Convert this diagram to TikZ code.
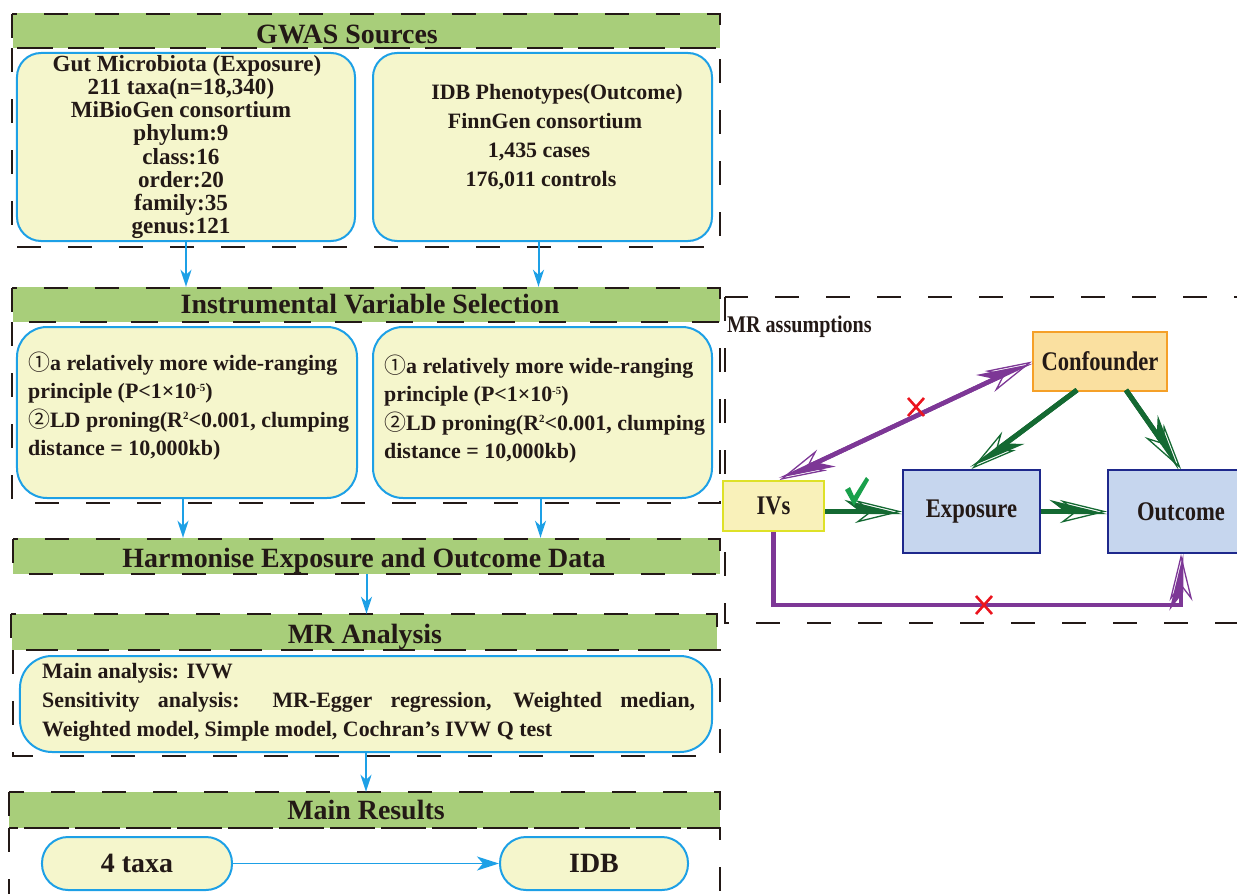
\documentclass[tikz,border=0pt]{standalone}
\usepackage{fontspec}
\setmainfont{Liberation Serif}
\newfontfamily\condfont{Liberation Serif}[FakeStretch=0.84]
\newfontfamily\cjk{Noto Sans CJK SC}
\usetikzlibrary{arrows.meta}
\definecolor{hdrgreen}{RGB}{168,206,122}
\definecolor{boxfill}{RGB}{245,246,204}
\definecolor{boxblue}{RGB}{29,160,230}
\definecolor{dashc}{RGB}{35,25,22}
\definecolor{txt}{RGB}{35,25,22}
\definecolor{conff}{RGB}{250,224,160}
\definecolor{confb}{RGB}{245,160,40}
\definecolor{ivf}{RGB}{249,241,186}
\definecolor{ivb}{RGB}{222,225,40}
\definecolor{expf}{RGB}{198,214,238}
\definecolor{expb}{RGB}{30,40,140}
\definecolor{dgreen}{RGB}{20,105,50}
\definecolor{purp}{RGB}{125,55,150}
\definecolor{redx}{RGB}{235,20,30}
\definecolor{chk}{RGB}{25,160,75}
\newcommand{\supx}[1]{\raisebox{7.5bp}{\fontsize{11}{11}\selectfont #1}}
\begin{document}
\begin{tikzpicture}[x=1bp,y=-1bp,
  hdr/.style={fill=hdrgreen, draw=none, inner sep=0, minimum height=35bp},
  hdrtext/.style={text=txt, inner sep=0, text height=18bp, text depth=0bp, font=\fontsize{28}{30}\selectfont\bfseries},
  frame/.style={draw=dashc, line width=2.6bp, dash pattern=on 24bp off 27bp},
  cbox/.style={draw=boxblue, fill=boxfill, line width=2bp, inner sep=0, rounded corners=24bp},
  body/.style={text=txt, inner sep=0, font=\fontsize{23.2}{23.3}\selectfont\bfseries},
  flow/.style={draw=boxblue, line width=2bp, -{Stealth[length=17bp,width=11bp,inset=5bp]}},
  flowh/.style={draw=boxblue, line width=1.6bp, -{Stealth[length=22bp,width=14bp,inset=6bp]}},
  pbox/.style={line width=2bp, inner sep=0, text=txt, font=\condfont\fontsize{27}{28}\selectfont\bfseries},
  gline/.style={draw=dgreen, line width=5bp},
  pline/.style={draw=purp, line width=4.5bp},
  xmark/.style={draw=redx, line width=2.6bp},
  openhead/.tip={Stealth[open, length=47bp, width=23bp, inset=15bp, line width=1.3bp]},
  halfhead/.tip={Stealth[harpoon, length=47bp, width=23bp, inset=15bp]}
]
\useasboundingbox (0,0) rectangle (1237,894);

% headers
\node[hdr, minimum width=707bp] (h1) at (366.5,30.5) {};
\node[hdr, minimum width=707bp] (h2) at (366.5,304.5) {};
\node[hdr, minimum width=707bp, minimum height=36bp] (h3) at (366.5,556) {};
\node[hdr, minimum width=705bp, minimum height=36bp] (h4) at (364.5,632) {};
\node[hdr, minimum width=711bp, minimum height=36bp] (h5) at (364.5,810) {};

% frames
\draw[frame] (12,14) rectangle (720,48);
\draw[frame] (12,48) rectangle (720,247);
\draw[frame] (12,288) rectangle (720,322);
\draw[frame] (12,322) rectangle (720,503);
\draw[frame] (13,539) rectangle (720,574);
\draw[frame] (11,614) rectangle (717,650);
\draw[frame] (13,650) rectangle (720,756);
\draw[frame] (9,792) rectangle (720,828);
\draw[frame] (9,828) rectangle (720,912);
\draw[frame] (725,297) rectangle (1252,623);

% header texts
\node[hdrtext] (t1) at (347,34) {GWAS Sources};
\node[hdrtext] (t2) at (370,304) {Instrumental Variable Selection};
\node[hdrtext] (t3) at (364,558) {Harmonise Exposure and Outcome Data};
\node[hdrtext] (t4) at (365,634) {MR Analysis};
\node[hdrtext] (t5) at (366,810) {Main Results};

% content boxes
\node[cbox, minimum width=338bp, minimum height=188bp] (gl) at (186,147) {};
\node[cbox, minimum width=339bp, minimum height=188bp] (gr) at (542.5,147) {};
\node[cbox, rounded corners=30bp, minimum width=340bp, minimum height=171bp] (il) at (187,412.5) {};
\node[cbox, rounded corners=30bp, minimum width=339bp, minimum height=171bp] (ir) at (542.5,412.5) {};
\node[cbox, rounded corners=32bp, minimum width=692bp, minimum height=96bp] (mb) at (366,704) {};
\node[cbox, rounded corners=26bp, minimum width=190bp, minimum height=53bp, text=txt, font=\fontsize{28}{30}\selectfont\bfseries] (taxa) at (137,863.5) {4 taxa};
\node[cbox, rounded corners=26bp, minimum width=188bp, minimum height=53bp, text=txt, font=\fontsize{28}{30}\selectfont\bfseries] (idb) at (594,863.5) {IDB};

% texts
\node[body, align=center] (glt) at (181,147) {\hspace*{12bp}Gut Microbiota (Exposure)\\211 taxa(n=18,340)\\MiBioGen consortium\\phylum:9\\class:16\\order:20\\family:35\\genus:121};
\node[body, align=center, font=\fontsize{22}{29}\selectfont\bfseries] (grt) at (545,137) {\hspace*{24bp}IDB Phenotypes(Outcome)\\FinnGen consortium\\\hspace*{-12bp}1,435 cases\\\hspace*{-8bp}176,011 controls};
\node[body, align=left, anchor=west, font=\fontsize{22}{28.7}\selectfont\bfseries] (ilt) at (28,406) {{\cjk\mdseries ①}a relatively more wide-ranging\\principle (P<1×10\supx{-5})\\{\cjk\mdseries ②}LD proning(R\supx{2}<0.001, clumping\\distance = 10,000kb)};
\node[body, align=left, anchor=west, font=\fontsize{22}{28.7}\selectfont\bfseries] (irt) at (384,409) {{\cjk\mdseries ①}a relatively more wide-ranging\\principle (P<1×10\supx{-5})\\{\cjk\mdseries ②}LD proning(R\supx{2}<0.001, clumping\\distance = 10,000kb)};
\node[body, align=left, anchor=west, font=\fontsize{22}{29}\selectfont\bfseries] (mbt) at (42,702) {Main analysis: IVW\\\makebox[653bp][s]{Sensitivity analysis: MR-Egger regression, Weighted median,}\\Weighted model, Simple model, Cochran’s IVW Q test};

% flow arrows
\draw[flow] (gl.south) -- (gl.south |- h2.north);
\draw[flow] ([xshift=-4bp]gr.south) -- ([xshift=-4bp]gr.south |- h2.north);
\draw[flow] ([xshift=-4bp]il.south) -- ([xshift=-4bp]il.south |- h3.north);
\draw[flow] ([xshift=-2bp]ir.south) -- ([xshift=-2bp]ir.south |- h3.north);
\draw[flow] (h3.south) -- (h3.south |- h4.north);
\draw[flow] (mb.south) -- (mb.south |- h5.north);
\draw[flowh] (taxa.east) -- (idb.west);

% MR assumptions panel
\node[anchor=west, inner sep=0, text=txt, font=\condfont\fontsize{24}{26}\selectfont\bfseries] (mra) at (727,327) {MR assumptions};
\node[pbox, draw=confb, fill=conff, minimum width=134bp, minimum height=59bp] (conf) at (1100,361.5) {Confounder};
\node[pbox, draw=ivb, fill=ivf, minimum width=101bp, minimum height=50bp] (ivs) at (773.5,506) {IVs};
\node[pbox, draw=expb, fill=expf, minimum width=137bp, minimum height=83bp] (expo) at (971.5,511.5) {Exposure};
\node[pbox, draw=expb, fill=expf, minimum width=146bp, minimum height=83bp] (outc) at (1181,511.5) {Outcome};
\coordinate (bot) at (0,605);

\draw[pline, {openhead}-{openhead}] ([xshift=6bp]ivs.north) -- (conf.west);
\draw[pline, {halfhead}-{halfhead}] ([xshift=6bp]ivs.north) -- (conf.west);
\draw[gline, -{openhead}] ([xshift=-23bp,yshift=2bp]conf.south) -- (expo.north);
\draw[gline, -{halfhead}] ([xshift=-23bp,yshift=2bp]conf.south) -- (expo.north);
\draw[gline, -{openhead}] ([xshift=26bp,yshift=2bp]conf.south) -- (outc.north);
\draw[gline, -{halfhead}] ([xshift=26bp,yshift=2bp]conf.south) -- (outc.north);
\draw[gline, -{openhead}] (ivs.east |- expo.west) -- (expo.west);
\draw[gline, -{halfhead}] (ivs.east |- expo.west) -- (expo.west);
\draw[gline, -{openhead}] (expo.east) -- (outc.west);
\draw[gline, -{halfhead}] (expo.east) -- (outc.west);
\draw[pline, -{openhead}] (ivs.south) -- (ivs.south |- bot) -| (outc.south);
\draw[pline, -{halfhead}] (ivs.south) -- (ivs.south |- bot) -| (outc.south);

% marks
\draw[xmark] (908,398) -- (924,416) (908,416) -- (924,398);
\draw[xmark] (976,596) -- (992,614) (976,614) -- (992,596);
\fill[chk] (845,490) -- (850,487) -- (854,496) -- (866,477) -- (869,480) -- (854,506) -- cycle;
\end{tikzpicture}
\end{document}
